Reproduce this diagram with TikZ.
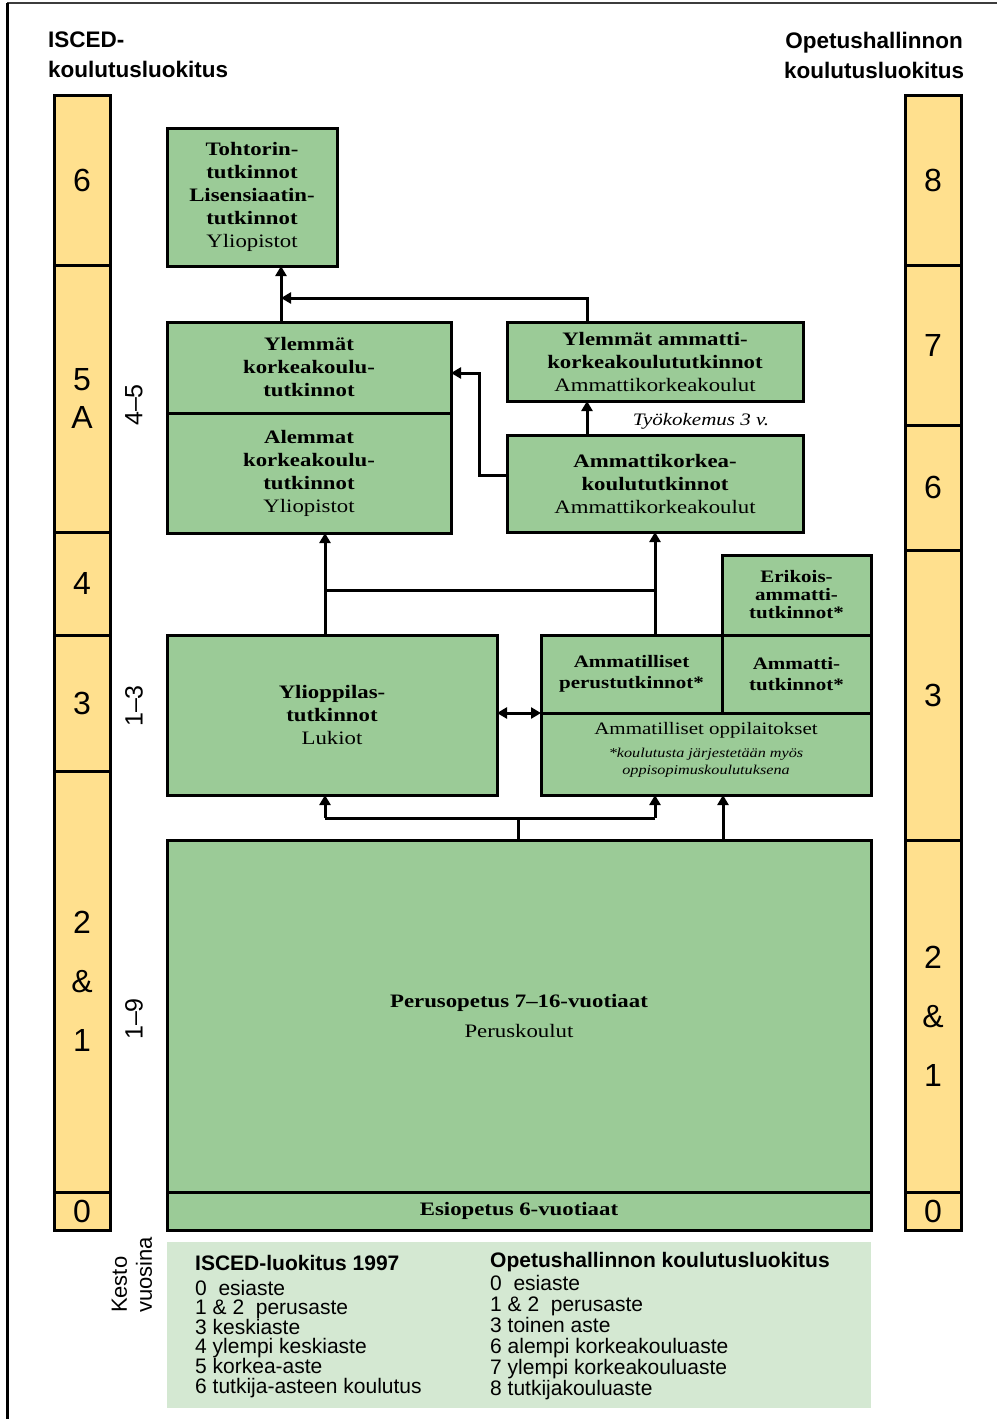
\documentclass[tikz,border=0pt]{standalone}
\usepackage{fontspec}
\usetikzlibrary{arrows.meta}
\newfontfamily\sansf{Liberation Sans}
\newfontfamily\serff[FakeStretch=1.2]{Liberation Serif}
\definecolor{boxgreen}{RGB}{155,203,151}
\definecolor{baryellow}{RGB}{255,224,142}
\definecolor{leggreen}{RGB}{212,232,210}
\definecolor{framegray}{RGB}{60,60,60}
\begin{document}
\begin{tikzpicture}[x=1pt,y=-1pt,
 cell/.style={draw=black, line width=3pt, fill=baryellow, inner sep=0pt, outer sep=0pt, minimum width=56pt, anchor=north west, align=center, font=\sansf\fontsize{32}{38}\selectfont},
 box/.style={draw=black, line width=3pt, fill=boxgreen, inner sep=0pt, outer sep=0pt, anchor=north west, align=center, font=\serff\fontsize{19}{23}\selectfont},
 vocbox/.style={box, font=\serff\fontsize{17.5}{21}\selectfont},
 conn/.style={draw=black, line width=3pt},
 arr/.style={conn, -{Triangle[length=10pt,width=11pt]}},
 darr/.style={conn, {Triangle[length=10pt,width=11pt]}-{Triangle[length=10pt,width=11pt]}},
 hdr/.style={font=\sansf\bfseries\fontsize{22.5}{30}\selectfont, inner sep=0pt},
 dur/.style={font=\sansf\fontsize{25}{30}\selectfont, inner sep=0pt, rotate=90},
 legt/.style={font=\sansf\bfseries\fontsize{21}{24}\selectfont, inner sep=0pt, anchor=base west},
 legl/.style={font=\sansf\fontsize{21}{24}\selectfont, inner sep=0pt, anchor=base west},
]
\useasboundingbox (0,0) rectangle (997,1419);
\fill[white] (0,0) rectangle (997,1419);
% frame
\draw[line width=2pt, framegray] (7,3) -- (997,3);
\draw[line width=3pt, black] (7,3) -- (7,1419);

% headers
\node[hdr, anchor=west, align=left] (hl) at (48,55) {ISCED-\\koulutusluokitus};
\node[hdr, align=center] (hr) at (874,55) {Opetushallinnon\\koulutusluokitus};

% left bar
\node[cell, minimum height=170pt] (l6) at (54,95) {6};
\node[cell, minimum height=267pt] (l5) at (54,265) {5\\A};
\node[cell, minimum height=103pt] (l4) at (54,532) {4};
\node[cell, minimum height=136pt] (l3) at (54,635) {3};
\node[cell, minimum height=421pt] (l21) at (54,771) {2\\[21pt]\&\\[21pt]1};
\node[cell, minimum height=38pt] (l0) at (54,1192) {0};

% right bar
\node[cell, minimum height=170pt] (r8) at (905,95) {8};
\node[cell, minimum height=160pt] (r7) at (905,265) {7};
\node[cell, minimum height=125pt] (r6) at (905,425) {6};
\node[cell, minimum height=290pt] (r3) at (905,550) {3};
\node[cell, minimum height=352pt] (r21) at (905,840) {2\\[21pt]\&\\[21pt]1};
\node[cell, minimum height=38pt] (r0) at (905,1192) {0};

% durations
\node[dur] (d45) at (134,405) {4–5};
\node[dur] (d13) at (134,706) {1–3};
\node[dur] (d19) at (134,1019) {1–9};
\node[font=\sansf\fontsize{22}{25}\selectfont, rotate=90, align=left, inner sep=0pt] (kesto) at (132,1275) {Kesto\\vuosina};

% boxes
\node[box, minimum width=170pt, minimum height=138pt] (tohtori) at (167,128)
 {\textbf{Tohtorin-}\\\textbf{tutkinnot}\\\textbf{Lisensiaatin-}\\\textbf{tutkinnot}\\Yliopistot};
\node[box, minimum width=284pt, minimum height=91pt] (ylk) at (167,322)
 {\textbf{Ylemmät}\\\textbf{korkeakoulu-}\\\textbf{tutkinnot}};
\node[box, minimum width=284pt, minimum height=120pt] (alk) at (167,413)
 {\textbf{Alemmat}\\\textbf{korkeakoulu-}\\\textbf{tutkinnot}\\Yliopistot};
\node[box, minimum width=296pt, minimum height=79pt] (ylam) at (507,322)
 {\textbf{Ylemmät ammatti-}\\\textbf{korkeakoulututkinnot}\\Ammattikorkeakoulut};
\node[box, minimum width=296pt, minimum height=97pt] (amk) at (507,435)
 {\textbf{Ammattikorkea-}\\\textbf{koulututkinnot}\\Ammattikorkeakoulut};
\node[font=\serff\itshape\fontsize{17.5}{21}\selectfont, anchor=base, inner sep=0pt] (tyo) at (701,425) {Työkokemus 3 v.};
\node[box, minimum width=330pt, minimum height=160pt] (ylio) at (167,635)
 {\textbf{Ylioppilas-}\\\textbf{tutkinnot}\\Lukiot};
\node[vocbox, font=\serff\fontsize{17.5}{18}\selectfont, minimum width=149pt, minimum height=80pt] (erik) at (722,555)
 {\textbf{Erikois-}\\\textbf{ammatti-}\\\textbf{tutkinnot*}};
\node[vocbox, minimum width=181pt, minimum height=78pt] (amper) at (541,635)
 {\textbf{Ammatilliset}\\\textbf{perustutkinnot*}};
\node[vocbox, minimum width=149pt, minimum height=78pt] (ammt) at (722,635)
 {\textbf{Ammatti-}\\\textbf{tutkinnot*}};
\node[vocbox, minimum width=330pt, minimum height=82pt] (ammopp) at (541,713) {};
\node[font=\serff\fontsize{17.5}{21}\selectfont, inner sep=0pt] (oppt) at (706,730) {Ammatilliset oppilaitokset};
\node[font=\serff\itshape\fontsize{13.5}{17}\selectfont, inner sep=0pt, align=center] (note) at (706,763)
 {*koulutusta järjestetään myös\\oppisopimuskoulutuksena};
\node[box, minimum width=704pt, minimum height=352pt] (perus) at (167,840)
 {\textbf{Perusopetus 7–16-vuotiaat}\\[7pt]Peruskoulut};
\node[box, minimum width=704pt, minimum height=38pt] (esi) at (167,1192)
 {\textbf{Esiopetus 6-vuotiaat}};

% junction coordinates
\coordinate (j1) at (281,298);
\coordinate (j2) at (587,298);
\coordinate (j3) at (479,475);
\coordinate (j4) at (479,373);
\coordinate (j5) at (325,590);
\coordinate (j6) at (655,590);
\coordinate (j7) at (518,818);
\coordinate (j8) at (325,818);
\coordinate (j9) at (655,818);
\coordinate (j10) at (723,818);

% connectors
\draw[arr] (ylk.north -| j1) -- (tohtori.south -| j1);
\draw[arr] (ylam.north -| j2) -- (j2) -- (j1);
\draw[arr] (amk.west |- j3) -- (j3) -- (j4) -- (ylk.east |- j4);
\draw[arr] (amk.north -| j2) -- (ylam.south -| j2);
\draw[arr] (ylio.north -| j5) -- (alk.south -| j5);
\draw[arr] (amper.north -| j6) -- (amk.south -| j6);
\draw[conn] (j5) -- (j6);
\draw[darr] (ylio.east |- amper.south) -- (amper.south west);
\draw[conn] (perus.north -| j7) -- (j7);
\draw[conn] (j8) -- (j9);
\draw[arr] (j8) -- (ylio.south -| j8);
\draw[arr] (j9) -- (ammopp.south -| j9);
\draw[arr] (perus.north -| j10) -- (ammopp.south -| j10);

% legend
\node[fill=leggreen, inner sep=0pt, outer sep=0pt, anchor=north west, minimum width=704pt, minimum height=166pt] (leg) at (167,1242) {};
\node[legt] (lat) at (195,1270) {ISCED-luokitus 1997};
\foreach \t [count=\i] in {0~~esiaste, 1 \& 2~~perusaste, 3 keskiaste, 4 ylempi keskiaste, 5 korkea-aste, 6 tutkija-asteen koulutus}
  \node[legl] (la\i) at (195,{1275.4+19.6*\i}) {\t};
\node[legt] (lbt) at (490,1267) {Opetushallinnon koulutusluokitus};
\foreach \t [count=\i] in {0~~esiaste, 1 \& 2~~perusaste, 3 toinen aste, 6 alempi korkeakouluaste, 7 ylempi korkeakouluaste, 8 tutkijakouluaste}
  \node[legl] (lb\i) at (490,{1269+21*\i}) {\t};
\end{tikzpicture}
\end{document}
